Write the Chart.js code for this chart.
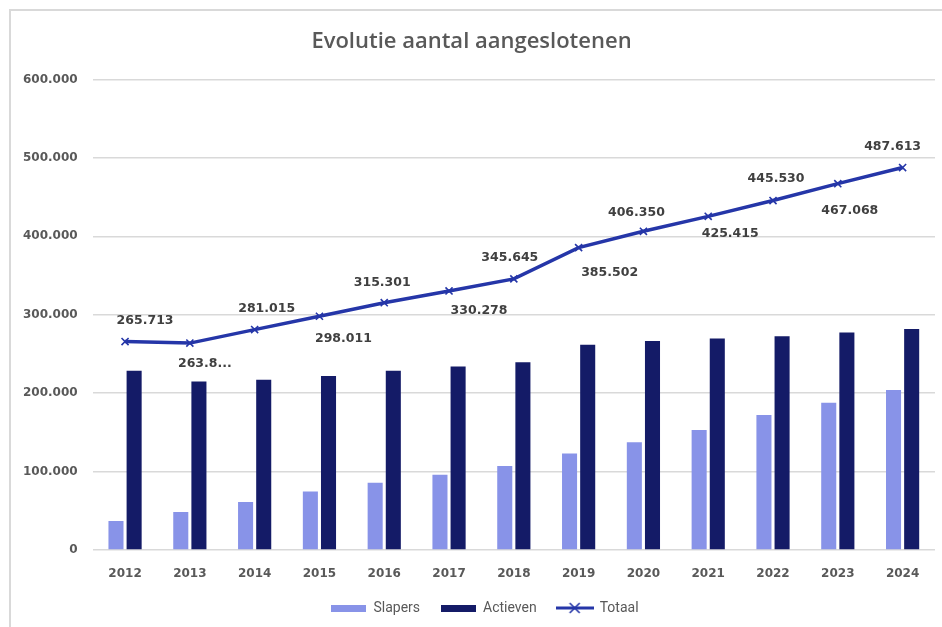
<!DOCTYPE html>
<html>
<head>
<meta charset="utf-8">
<script src="https://cdn.jsdelivr.net/npm/chart.js@4.4.1/dist/chart.umd.min.js"></script>
<style>
  html, body { margin: 0; padding: 0; background: #fff; }
  #wrap { position: relative; width: 942px; height: 627px; }
  #frame { position: absolute; left: 9px; top: 9px; right: 0; bottom: 0;
           border-left: 2px solid #d9d9d9; border-top: 2px solid #d9d9d9; pointer-events: none; }
</style>
</head>
<body>
<div id="wrap">
  <canvas id="myChart" width="942" height="627"></canvas>
  <div id="frame"></div>
</div>
<script>
const years = ['2012', '2013', '2014', '2015', '2016', '2017', '2018', '2019', '2020', '2021', '2022', '2023', '2024'];
const slapers = [37000, 48500, 61300, 74500, 85600, 96000, 107000, 123000, 137500, 153000, 172000, 187700, 204000];
const actieven = [228600, 214800, 217000, 222000, 228600, 233800, 239500, 261800, 266400, 269800, 272400, 277300, 281800];
const totaal = [265713, 263800, 281015, 298011, 315301, 330278, 345645, 385502, 406350, 425415, 445530, 467068, 487613];
const yTicks = [0, 100000, 200000, 300000, 400000, 500000, 600000];

// Excel cut off the 2013 label
const clipped = { '2013': 5 };

// where each total label sits relative to its point (px)
const labelDx = [20, 15, 12, 24, -2, 30, -4, 31, -7, 22, 3, 12, -10];
const labelDy = [-21, 21, -21, 22, -20, 20, -21, 25, -19, 17, -22, 27, -21];

const fmt = v => String(v).replace(/\B(?=(\d{3})+(?!\d))/g, '.');

function swatch(color) {
  const c = document.createElement('canvas');
  c.width = 35; c.height = 7;
  const g = c.getContext('2d');
  g.fillStyle = color;
  g.fillRect(0, 0, 35, 7);
  return c;
}

function lineSwatch(color) {
  const c = document.createElement('canvas');
  c.width = 38; c.height = 12;
  const g = c.getContext('2d');
  g.strokeStyle = color;
  g.lineWidth = 3;
  g.beginPath(); g.moveTo(0, 6); g.lineTo(38, 6); g.stroke();
  g.lineWidth = 1.6;
  g.beginPath();
  g.moveTo(14, 1); g.lineTo(24, 11);
  g.moveTo(24, 1); g.lineTo(14, 11);
  g.stroke();
  return c;
}

const cSlapers = '#8893e8';
const cActieven = '#141b67';
const cTotaal = '#2536a8';

const totalLabels = {
  id: 'totalLabels',
  afterLayout(chart) {
    // legend sits a bit right of centre in the original
    chart.legend.left += 13;
    chart.legend.right += 13;
  },
  afterDatasetsDraw(chart) {
    const meta = chart.getDatasetMeta(2);
    const ctx = chart.ctx;
    ctx.save();
    ctx.font = 'bold 12.5px "DejaVu Sans"';
    ctx.fillStyle = '#404040';
    ctx.textAlign = 'center';
    ctx.textBaseline = 'middle';
    meta.data.forEach((pt, i) => {
      let txt = fmt(totaal[i]);
      if (clipped[years[i]]) txt = txt.slice(0, clipped[years[i]]) + '...';
      ctx.fillText(txt, pt.x + labelDx[i], pt.y + labelDy[i]);
    });
    ctx.restore();
  }
};

let ctx = document.getElementById('myChart').getContext('2d');
let myChart = new Chart(ctx, {
  data: {
    labels: years,
    datasets: [
      { type: 'bar', label: 'Slapers', data: slapers, backgroundColor: cSlapers,
        categoryPercentage: 0.56, barPercentage: 0.83, order: 1 },
      { type: 'bar', label: 'Actieven', data: actieven, backgroundColor: cActieven,
        categoryPercentage: 0.56, barPercentage: 0.83, order: 1 },
      { type: 'line', label: 'Totaal', data: totaal, borderColor: cTotaal, borderWidth: 3.5,
        pointStyle: 'crossRot', pointRadius: 5, pointBorderWidth: 1.6, pointBorderColor: cTotaal,
        pointBackgroundColor: cTotaal, tension: 0, order: 0 }
    ]
  },
  options: {
    responsive: false,
    animation: false,
    layout: { padding: { left: 8, right: 7, top: 10, bottom: 2 } },
    plugins: {
      title: {
        display: true,
        text: 'Evolutie aantal aangeslotenen',
        color: '#595959',
        font: { family: 'Open Sans', size: 22, weight: '600' },
        padding: { top: 19, bottom: 24 }
      },
      legend: {
        position: 'bottom',
        labels: {
          usePointStyle: true,
          pointStyleWidth: 36,
          padding: 20,
          color: '#595959',
          font: { family: 'Roboto', size: 14 },
          generateLabels(chart) {
            const imgs = [swatch(cSlapers), swatch(cActieven), lineSwatch(cTotaal)];
            return chart.data.datasets.map((ds, i) => ({
              text: ds.label,
              pointStyle: imgs[i],
              fontColor: '#595959',
              lineWidth: 0,
              strokeStyle: 'transparent',
              fillStyle: 'transparent',
              datasetIndex: i
            }));
          }
        }
      },
      tooltip: { enabled: false }
    },
    scales: {
      x: {
        grid: { display: false },
        border: { display: false },
        ticks: { color: '#595959', padding: 9, font: { family: 'DejaVu Sans', size: 12, weight: 'bold' } },
        afterFit(scale) { scale.height = 31; }
      },
      y: {
        min: 0,
        max: 600000,
        afterBuildTicks(scale) { scale.ticks = yTicks.map(v => ({ value: v })); },
        grid: { color: '#d9d9d9', lineWidth: 1.5, drawTicks: false },
        border: { display: false },
        ticks: { color: '#595959', padding: 15, callback: v => fmt(v),
                 font: { family: 'DejaVu Sans', size: 12, weight: 'bold' } }
      }
    }
  },
  plugins: [totalLabels]
});
</script>
</body>
</html>
